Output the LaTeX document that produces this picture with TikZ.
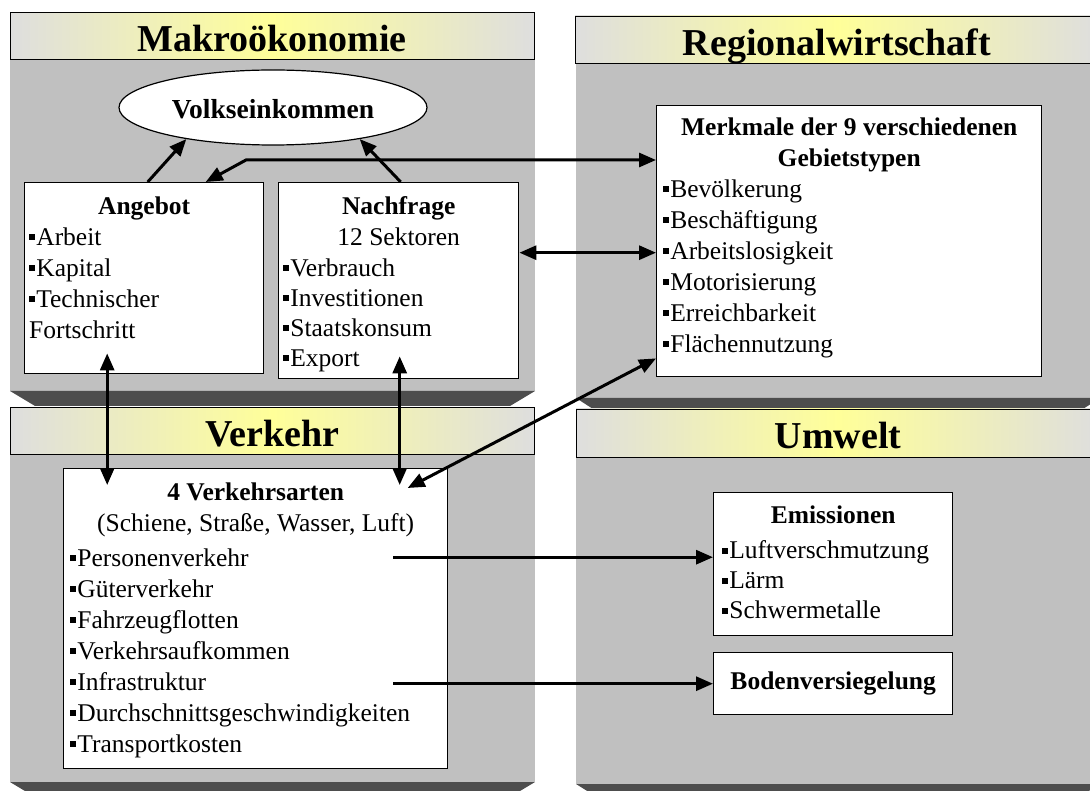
\documentclass[tikz,border=0pt]{standalone}
\usepackage{fontspec}
\setmainfont{Liberation Serif}
\usetikzlibrary{shapes.geometric, arrows.meta, positioning, calc}
\definecolor{panelFill}{HTML}{C0C0C0}
\definecolor{bevelFill}{HTML}{4D4D4D}
\definecolor{barGray}{HTML}{DEDEDE}
\definecolor{barYellow}{HTML}{FFFF99}
\newcommand{\sqitem}{\rule[0.2em]{0.23em}{0.23em}\hspace{0.05em}}
\newcommand{\boxfont}{\fontsize{25.5}{31}\selectfont}

\begin{document}
\begin{tikzpicture}[
    x=1pt, y=-1pt,
    font=\boxfont,
    panel/.style={fill=panelFill, draw=none},
    bevel/.style={fill=bevelFill, draw=none},
    bar/.style={
        rectangle, draw=black, line width=0.8pt,
        left color=barGray, right color=barGray, middle color=barYellow,
        minimum width=524pt, minimum height=47pt, inner sep=0pt,
        text height=32pt, text depth=0pt,
        font=\fontsize{38}{44}\selectfont\bfseries
    },
    infobox/.style={
        rectangle, draw=black, fill=white, line width=1.4pt,
        anchor=north west, inner sep=0pt
    },
    head/.style={anchor=north, align=center, inner sep=0pt},
    items/.style={anchor=north west, align=left, inner sep=0pt},
    arrow/.style={-{Triangle[length=17pt,width=14pt]}, line width=3pt},
    dblarrow/.style={{Triangle[length=17pt,width=14pt]}-{Triangle[length=17pt,width=14pt]}, line width=3pt}
]
    \useasboundingbox (0,0) rectangle (1090,791);
    \clip (0,0) rectangle (1090,791);

    % panels
    \fill[panel] (10,59) rectangle (535,391);
    \fill[bevel] (10,391) -- (535,391) -- (510,406) -- (35,406) -- cycle;
    \fill[panel] (576,63) rectangle (1100,398);
    \fill[bevel] (576,398) -- (1100,398) -- (1083,409) -- (593,409) -- cycle;
    \fill[panel] (10,454) rectangle (535,782);
    \fill[bevel] (10,782) -- (535,782) -- (510,797) -- (35,797) -- cycle;
    \fill[panel] (576,457) rectangle (1100,784);
    \fill[bevel] (576,784) -- (1100,784) -- (1076,799) -- (600,799) -- cycle;

    \node[bar] (makro) at (272,35.75) {Makroökonomie};
    \node[bar] (regional) at (837,39.5) {Regionalwirtschaft};
    \node[bar] (verkehr) at (272.5,430.75) {Verkehr};
    \node[bar, minimum height=48pt] (umwelt) at (838,433) {Umwelt};

    % boxes
    \node[ellipse, draw=black, fill=white, line width=1.2pt,
          minimum width=308pt, minimum height=75pt, inner sep=0pt,
          text height=22pt, text depth=0pt,
          font=\fontsize{27.5}{33}\selectfont\bfseries] (volk) at (273,107.5) {Volkseinkommen};

    \node[infobox, minimum width=239pt, minimum height=191pt] (angebot) at (24,182) {};
    \node[head, below=14.5pt of angebot.north] (angebotHead) {\textbf{Angebot}};
    \node[items, below right=45.5pt and 5pt of angebot.north west] (angebotList)
        {\sqitem Arbeit\\\sqitem Kapital\\\sqitem Technischer\\Fortschritt};

    \node[infobox, minimum width=240pt, minimum height=196pt] (nachfrage) at (278,182) {};
    \node[head, below=14.5pt of nachfrage.north] (nachfrageHead) {\textbf{Nachfrage}\\12 Sektoren};
    \node[items, font=\fontsize{25.5}{30}\selectfont,
          below right=76.5pt and 5pt of nachfrage.north west] (nachfrageList)
        {\sqitem Verbrauch\\\sqitem Investitionen\\\sqitem Staatskonsum\\\sqitem Export};

    \node[infobox, minimum width=385pt, minimum height=271pt] (merkmale) at (656,105) {};
    \node[head, below=12.5pt of merkmale.north] (merkmaleHead)
        {\textbf{Merkmale der 9 verschiedenen}\\\textbf{Gebietstypen}};
    \node[items, below right=74.5pt and 7pt of merkmale.north west] (merkmaleList)
        {\sqitem Bevölkerung\\\sqitem Beschäftigung\\\sqitem Arbeitslosigkeit\\\sqitem Motorisierung\\\sqitem Erreichbarkeit\\\sqitem Flächennutzung};

    \node[infobox, minimum width=384pt, minimum height=300pt] (verkehrsarten) at (63,468) {};
    \node[head, below=14.5pt of verkehrsarten.north] (verkehrsartenHead)
        {\textbf{4 Verkehrsarten}\\(Schiene, Straße, Wasser, Luft)};
    \node[items, below right=80.5pt and 7pt of verkehrsarten.north west] (verkehrsartenList)
        {\sqitem Personenverkehr\\\sqitem Güterverkehr\\\sqitem Fahrzeugflotten\\\sqitem Verkehrsaufkommen\\\sqitem Infrastruktur\\\sqitem Durchschnittsgeschwindigkeiten\\\sqitem Transportkosten};

    \node[infobox, minimum width=239pt, minimum height=143pt] (emissionen) at (713,492) {};
    \node[head, below=13.5pt of emissionen.north] (emissionenHead) {\textbf{Emissionen}};
    \node[items, font=\fontsize{25.5}{30}\selectfont,
          below right=48.5pt and 9pt of emissionen.north west] (emissionenList)
        {\sqitem Luftverschmutzung\\\sqitem Lärm\\\sqitem Schwermetalle};

    \node[infobox, minimum width=239pt, minimum height=62pt, font=\boxfont\bfseries] (boden) at (713,652) {Bodenversiegelung};

    % connectors
    \coordinate (knick) at (246,160);
    \draw[arrow] ([xshift=3.5pt]angebot.north) -- (volk.200);
    \draw[arrow] ([xshift=2pt]nachfrage.north) -- (volk.340);
    \draw[dblarrow] ([xshift=61.5pt]angebot.north) -- (knick) -- (knick -| merkmale.west);
    \draw[dblarrow] ([yshift=28pt]nachfrage.east) -- ([yshift=28pt]nachfrage.east -| merkmale.west);
    \draw[dblarrow] ([xshift=-37pt,yshift=21pt]angebot.south) -- ([xshift=-148.5pt,yshift=-17pt]verkehrsarten.north);
    \draw[dblarrow] ([xshift=1pt,yshift=23pt]nachfrage.south) -- ([xshift=144pt,yshift=-17pt]verkehrsarten.north);
    \draw[dblarrow] ([xshift=152pt,yshift=-20pt]verkehrsarten.north) -- ([yshift=19pt]merkmale.south west);
    \draw[arrow] ([xshift=-55pt,yshift=7pt]emissionen.west -| verkehrsarten.east) -- ([yshift=7pt]emissionen.west);
    \draw[arrow] ([xshift=-55pt]boden.west -| verkehrsarten.east) -- (boden.west);
\end{tikzpicture}
\end{document}
